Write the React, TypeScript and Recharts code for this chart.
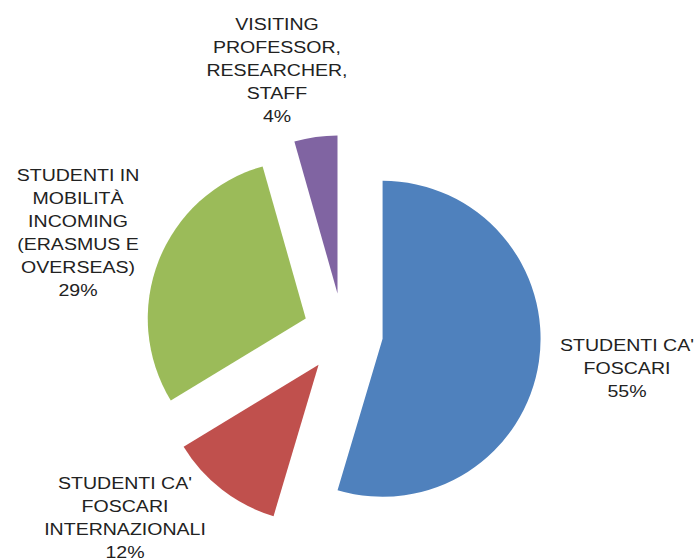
import { Cell, Pie, PieChart, Sector } from "recharts";

const categories = [
  "STUDENTI CA' FOSCARI",
  "STUDENTI CA' FOSCARI INTERNAZIONALI",
  "STUDENTI IN MOBILITÀ INCOMING (ERASMUS E OVERSEAS)",
  "VISITING PROFESSOR, RESEARCHER, STAFF",
];
// how each category label wraps on the chart
const labelLines = [
  ["STUDENTI CA'", "FOSCARI"],
  ["STUDENTI CA'", "FOSCARI", "INTERNAZIONALI"],
  ["STUDENTI IN", "MOBILITÀ", "INCOMING", "(ERASMUS E", "OVERSEAS)"],
  ["VISITING", "PROFESSOR,", "RESEARCHER,", "STAFF"],
];
const values = [54.6, 11.7, 29.3, 4.4];
const colors = ["#4F81BD", "#C0504D", "#9BBB59", "#8064A2"];

const data = categories.map((name, i) => ({ name, value: values[i] }));

// layout
const RAD = Math.PI / 180;
const EXPLODE = 40;
const LINE_H = 23;
// label block centre, relative to the pie centre (Excel "best fit" spots)
const LABEL_OFFSETS: [number, number][] = [
  [284, 35],
  [-218, 185],
  [-265, -100],
  [-66, -263],
];

function ExplodedSector(props: any) {
  const { cx, cy, midAngle } = props;
  const dx = EXPLODE * Math.cos(-midAngle * RAD);
  const dy = EXPLODE * Math.sin(-midAngle * RAD);
  return <Sector {...props} cx={cx + dx} cy={cy + dy} />;
}

function renderLabel(props: any) {
  const { cx, cy, index, percent } = props;
  const [ox, oy] = LABEL_OFFSETS[index];
  const lines = [...labelLines[index], `${Math.round(percent * 100)}%`];
  const mid = (lines.length - 1) / 2;
  return (
    <g transform={`translate(${cx + ox},${cy + oy}) scale(1.15,1)`}>
      <text
        textAnchor="middle"
        fontSize={17}
        fill="#222"
        fontFamily="'Liberation Sans', Arial, sans-serif"
      >
        {lines.map((l, i) => (
          <tspan key={i} x={0} y={(i - mid) * LINE_H} dy="0.35em">
            {l}
          </tspan>
        ))}
      </text>
    </g>
  );
}

export default function App() {
  return (
    <div style={{ position: "absolute", left: 0, top: 0, width: 698, height: 560, background: "#fff" }}>
      <PieChart width={698} height={560} margin={{ top: 0, right: 0, bottom: 0, left: 0 }}>
        <Pie
          data={data}
          dataKey="value"
          nameKey="name"
          cx={343}
          cy={333}
          outerRadius={158}
          startAngle={90}
          endAngle={-270}
          stroke="none"
          shape={ExplodedSector}
          label={renderLabel}
          labelLine={false}
          isAnimationActive={false}
        >
          {data.map((_, i) => (
            <Cell key={i} fill={colors[i]} />
          ))}
        </Pie>
      </PieChart>
    </div>
  );
}
